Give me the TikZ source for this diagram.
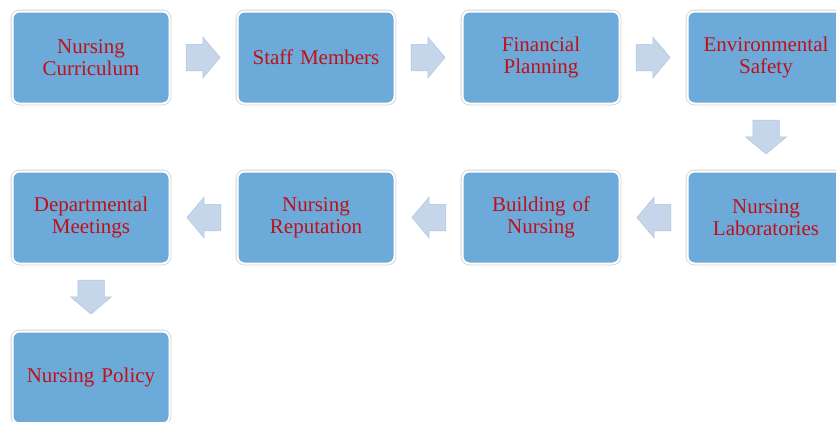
\documentclass[tikz,border=0pt]{standalone}
\usepackage{fontspec}
\setmainfont{Liberation Serif}
\usetikzlibrary{positioning}
\usetikzlibrary{calc}
\usetikzlibrary{shapes.arrows}
\definecolor{boxblue}{RGB}{107,170,217}
\definecolor{boxred}{RGB}{192,16,24}
\definecolor{arrowblue}{RGB}{197,214,235}
\definecolor{arrowedge}{RGB}{178,196,220}

\begin{document}
\begin{tikzpicture}[x=1pt, y=1pt,
    stage/.style={%
        fill=boxblue, draw=white, line width=2pt,
        preaction={draw=black!18, line width=3.6pt},
        rounded corners=7pt, outer sep=0pt,
        minimum width=157pt, minimum height=92pt,
        text width=150pt, align=center, text=boxred,
        font=\fontsize{21}{22}\selectfont},
    flow/.style={%
        single arrow, fill=arrowblue, draw=arrowedge, line width=0.5pt,
        minimum height=34pt, minimum width=40pt,
        inner xsep=0pt, inner ysep=13pt,
        single arrow tip angle=100,
        rotate=#1, xshift=-6pt}, % pull the arrow back so it sits mid-gap
    node distance=68pt and 68pt,
]
    \useasboundingbox (0,0) rectangle (836,-421);

    % First row, left to right
    \node[stage] (curriculum) at (91,-57.5) {Nursing\\Curriculum};
    \node[stage, right=of curriculum] (staff) {Staff Members};
    \node[stage, right=of staff] (finance) {Financial\\Planning};
    \node[stage, right=of finance] (safety) {Environmental\\Safety};

    % Second row, right to left
    \node[stage, below=of safety] (labs) {Nursing\\Laboratories};
    \node[stage, left=of labs] (building) {Building of\\Nursing};
    \node[stage, left=of building] (reputation) {Nursing\\Reputation};
    \node[stage, left=of reputation] (meetings) {Departmental\\Meetings};

    % Last one
    \node[stage, below=of meetings] (policy) {Nursing Policy};

    % Block arrows in the gaps
    \node[flow=0] (go1) at ($(curriculum.east)!0.5!(staff.west)$) {};
    \node[flow=0] (go2) at ($(staff.east)!0.5!(finance.west)$) {};
    \node[flow=0] (go3) at ($(finance.east)!0.5!(safety.west)$) {};
    \node[flow=-90] (go4) at ($(safety.south)!0.5!(labs.north)$) {};
    \node[flow=180] (go5) at ($(labs.west)!0.5!(building.east)$) {};
    \node[flow=180] (go6) at ($(building.west)!0.5!(reputation.east)$) {};
    \node[flow=180] (go7) at ($(reputation.west)!0.5!(meetings.east)$) {};
    \node[flow=-90] (go8) at ($(meetings.south)!0.5!(policy.north)$) {};
\end{tikzpicture}
\end{document}
